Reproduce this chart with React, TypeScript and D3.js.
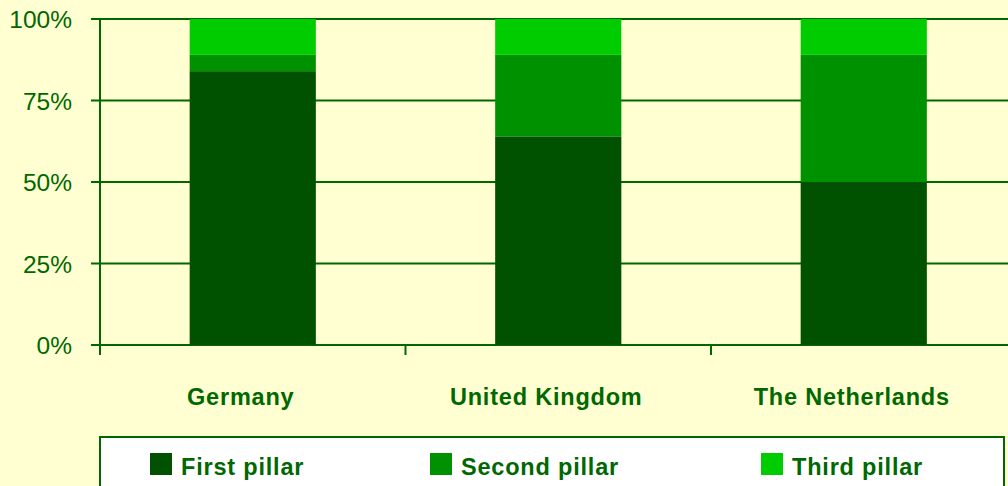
import React from "react";
import * as d3 from "d3";

const countries = ["Germany", "United Kingdom", "The Netherlands"];
const firstPillar = [84, 64, 50];
const secondPillar = [5, 25, 39];
const thirdPillar = [11, 11, 11];
const seriesNames = ["First pillar", "Second pillar", "Third pillar"];
const seriesColors = ["#005200", "#009100", "#00cc00"];
const yTicks = [0, 25, 50, 75, 100];

const width = 1008;
const height = 486;
const ink = "#006800";

const App: React.FC = () => {
  const rows = countries.map((c, i) => ({
    country: c,
    "First pillar": firstPillar[i],
    "Second pillar": secondPillar[i],
    "Third pillar": thirdPillar[i],
  }));

  const stacked = d3.stack<any>().keys(seriesNames)(rows);

  const yScale = d3.scaleLinear().domain([0, 100]).range([345, 19]);

  const xBand = d3
    .scaleBand<string>()
    .domain(countries)
    .range([100, 1016.5])
    .paddingInner(0)
    .paddingOuter(0);

  // narrower band for the bars themselves
  const barBand = d3
    .scaleBand<string>()
    .domain(countries)
    .range([100, 1016.5])
    .paddingInner(0.587)
    .paddingOuter(0.2935);

  const catTicks = [...countries.map((c) => xBand(c) as number), 1016.5];

  const legendX = d3.scaleOrdinal<string, number>().domain(seriesNames).range([150, 430, 761]);

  return (
    <svg
      width={width}
      height={height}
      style={{ position: "absolute", left: 0, top: 0, background: "#ffffd2" }}
      fontFamily="'Liberation Sans', Arial, sans-serif"
    >
      <rect x={0} y={0} width={width} height={height} fill="#ffffd2" />

      {/* gridlines + y ticks */}
      {yTicks.map((t) => (
        <g key={t}>
          <line x1={91} x2={1010} y1={yScale(t)} y2={yScale(t)} stroke={ink} strokeWidth={2} />
          <text x={72} y={yScale(t) + 9} textAnchor="end" fontSize={24.5} fill={ink}>
            {t}%
          </text>
        </g>
      ))}

      {/* bars */}
      {stacked.map((s, si) =>
        s.map((d) => (
          <rect
            key={s.key + d.data.country}
            x={barBand(d.data.country)}
            width={barBand.bandwidth()}
            y={yScale(d[1])}
            height={yScale(d[0]) - yScale(d[1])}
            fill={seriesColors[si]}
          />
        ))
      )}

      {/* axes */}
      <line x1={100} x2={100} y1={19} y2={355} stroke={ink} strokeWidth={2} />
      {catTicks.map((x, i) => (
        <line key={i} x1={x} x2={x} y1={345} y2={355} stroke={ink} strokeWidth={2} />
      ))}

      {countries.map((c) => (
        <text
          key={c}
          x={(xBand(c) as number) + xBand.bandwidth() / 2 - 12}
          y={405}
          textAnchor="middle"
          fontSize={23.5}
          fontWeight="bold"
          letterSpacing={0.8}
          fill={ink}
        >
          {c}
        </text>
      ))}

      {/* legend */}
      <rect x={100} y={437} width={904} height={60} fill="#ffffff" stroke={ink} strokeWidth={2} />
      {seriesNames.map((n, i) => (
        <g key={n}>
          <rect x={legendX(n)} y={453} width={22} height={22} fill={seriesColors[i]} />
          <text
            x={legendX(n) + 31}
            y={475}
            fontSize={23.5}
            fontWeight="bold"
            letterSpacing={0.8}
            fill={ink}
          >
            {n}
          </text>
        </g>
      ))}
    </svg>
  );
};

export default App;
